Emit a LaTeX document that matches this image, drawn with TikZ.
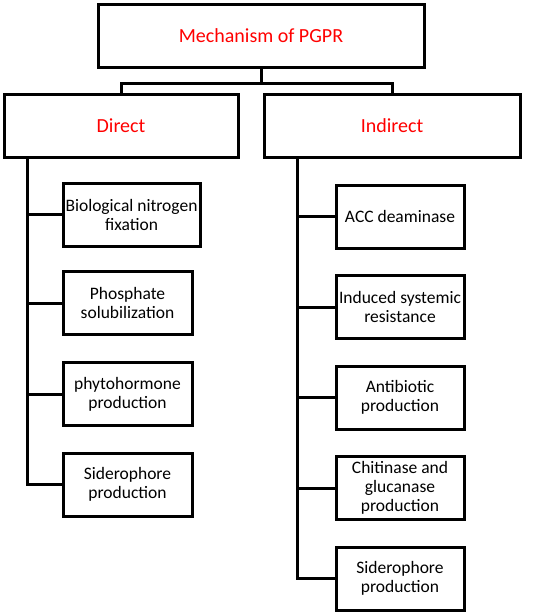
\documentclass[tikz,border=0pt]{standalone}
\usepackage{fontspec}
\setmainfont{Carlito}
\usetikzlibrary{positioning}

\begin{document}
\begin{tikzpicture}[x=1pt, y=-1pt]
\tikzstyle{every node}=[font=\fontsize{17.5}{19}\selectfont, align=center]
\tikzstyle{box}=[draw, line width=3pt, inner sep=0pt, minimum height=63pt]
\tikzstyle{head}=[box, text=red, font=\fontsize{20}{24}\selectfont]
\tikzstyle{link}=[draw, line width=3pt]

\useasboundingbox (0,0) rectangle (536,613);

\node[head, minimum width=326pt] at (261,36) (mech) {Mechanism of PGPR};
\node[head, minimum width=234pt] at (121,126) (direct) {Direct};
\node[head, minimum width=256pt] at (392,126) (indirect) {Indirect};

\coordinate (lspine) at (27,0);
\coordinate (rspine) at (297,0);

% direct side
\node[box, minimum width=137pt] at (131.5,214.5) (nitro) {Biological nitrogen\\fixation};
\node[box, minimum width=129pt] at (127.5,303) (phos) {Phosphate\\solubilization};
\node[box, minimum width=129pt] at (127.5,394) (phyto) {phytohormone\\production};
\node[box, minimum width=129pt] at (127.5,484.5) (sidl) {Siderophore\\production};

% indirect side
\node[box, minimum width=128pt] at (400,216.5) (acc) {ACC deaminase};
\node[box, minimum width=128pt] at (400,307) (isr) {Induced systemic\\resistance};
\node[box, minimum width=128pt] at (400,397.5) (anti) {Antibiotic\\production};
\node[box, minimum width=128pt] at (400,488) (chit) {Chitinase and\\glucanase\\production};
\node[box, minimum width=128pt] at (400,578.5) (sidr) {Siderophore\\production};

\draw[link] (mech.south) -- ++(0,14) -| (direct.north);
\draw[link] (mech.south) ++(0,14) -| (indirect.north);

\draw[link] (direct.south -| lspine) |- (sidl.west);
\foreach \n in {nitro, phos, phyto}
  \draw[link] (\n.west) -- (\n.west -| lspine);

\draw[link] (indirect.south -| rspine) |- (sidr.west);
\foreach \n in {acc, isr, anti, chit}
  \draw[link] (\n.west) -- (\n.west -| rspine);
\end{tikzpicture}
\end{document}
